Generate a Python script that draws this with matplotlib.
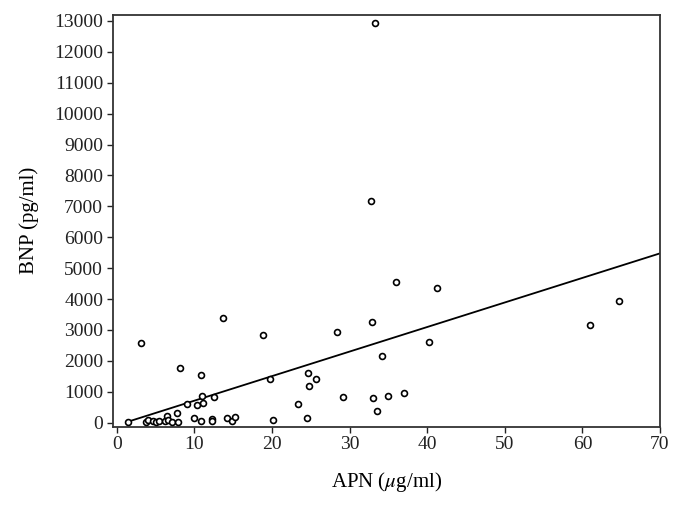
import numpy as np
import matplotlib
matplotlib.use("Agg")
import matplotlib.pyplot as plt

# APN (ug/ml) vs BNP (pg/ml)
apn = [1.4, 3.1, 3.8, 4.0, 4.6, 5.0, 5.4, 6.2, 6.5, 6.6,
       7.1, 7.8, 7.9, 8.2, 9.0, 9.9, 10.3, 10.8, 10.8, 11.0,
       11.1, 12.2, 12.2, 12.5, 13.7, 14.2, 14.8, 15.2, 18.9, 19.8,
       20.1, 23.4, 24.5, 24.6, 24.8, 25.7, 28.4, 29.1, 32.8, 32.9,
       33.0, 33.3, 33.5, 34.2, 34.9, 36.0, 37.0, 40.2, 41.2, 61.0,
       64.7]
bnp = [20, 2590, 15, 100, 45, 20, 50, 60, 230, 90,
       15, 300, 20, 1780, 600, 140, 570, 1530, 60, 850,
       650, 120, 70, 820, 3380, 140, 55, 190, 2850, 1400,
       85, 620, 160, 1600, 1180, 1420, 2940, 820, 7170, 3250,
       790, 12940, 370, 2160, 870, 4540, 950, 2620, 4360, 3150,
       3930]

# regression line end points
fit_x = [1.4, 70]
fit_y = [30, 5478]

x_ticks = list(range(0, 71, 10))
y_ticks = list(range(0, 13001, 1000))

plt.rcParams['font.family'] = ['Liberation Serif', 'DejaVu Serif']
plt.rcParams['mathtext.fontset'] = 'stix'

fig = plt.figure(figsize=(6.83, 5.08), dpi=100)
ax = fig.add_axes([0.1654, 0.160, 0.8009, 0.8105])

ax.scatter(apn, bnp, s=18, facecolors='white', edgecolors='black',
           linewidths=1.2, zorder=3)
ax.plot(fit_x, fit_y, color='black', lw=1.3, zorder=2)

ax.set_xlim(-0.5, 70)
ax.set_ylim(-130, 13190)
ax.set_xticks(x_ticks)
ax.set_yticks(y_ticks)

for s in ax.spines.values():
    s.set_color('#333333')
    s.set_linewidth(1.3)

ax.tick_params(direction='out', length=4, width=1, colors='#222222',
               labelsize=14, pad=3)

ax.set_xlabel('APN ($\\mu$g/ml)', fontsize=15, labelpad=12)
ax.set_ylabel('BNP (pg/ml)', fontsize=15, labelpad=11)

fig.savefig('out.png', dpi=100)
